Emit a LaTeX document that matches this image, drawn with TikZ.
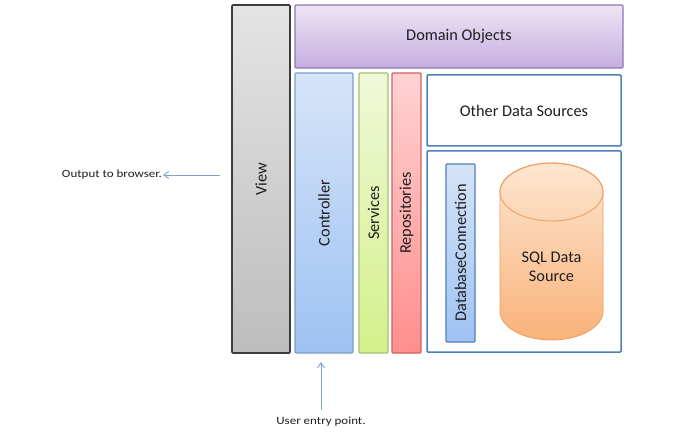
\documentclass[tikz,border=0pt]{standalone}
\usepackage{fontspec}
\setmainfont{Carlito}
\usetikzlibrary{arrows.meta}
\definecolor{viewB}{HTML}{3C3C3C}
\definecolor{viewT}{HTML}{E4E4E4}
\definecolor{viewD}{HTML}{BDBDBD}
\definecolor{domB}{HTML}{8C7AB0}
\definecolor{domT}{HTML}{EDE5F5}
\definecolor{domD}{HTML}{C6AEE0}
\definecolor{ctlB}{HTML}{7B9CCB}
\definecolor{ctlT}{HTML}{D6E4F7}
\definecolor{ctlD}{HTML}{9EC2F3}
\definecolor{srvB}{HTML}{A8C070}
\definecolor{srvT}{HTML}{EFF8D8}
\definecolor{srvD}{HTML}{D4F08A}
\definecolor{repB}{HTML}{D06262}
\definecolor{repT}{HTML}{FFD2D2}
\definecolor{repD}{HTML}{FF8E8E}
\definecolor{dsB}{HTML}{4F7FBA}
\definecolor{cylB}{HTML}{F0A060}
\definecolor{cylT}{HTML}{FDE6D0}
\definecolor{cylD}{HTML}{F9B27A}
\definecolor{arr}{HTML}{7F9FCF}
\definecolor{txt}{HTML}{1E1E1E}
\tikzset{
  bigfont/.style={font=\fontsize{16.3}{19.5}\selectfont, text=txt},
  layer/.style={draw, line width=1.2pt, inner sep=0pt, rounded corners=1pt, bigfont},
  vlabel/.style={rotate=90, bigfont},
  note/.style={font=\fontsize{11}{13}\selectfont, text=txt, inner sep=1pt},
  pointer/.style={draw=arr, line width=0.9pt, -{Straight Barb[length=5pt,width=7pt]}},
}
\begin{document}
\begin{tikzpicture}[x=1pt,y=1pt]
\useasboundingbox (0,0) rectangle (681,440);
% View
\node[layer, draw=viewB, line width=1.6pt, top color=viewT, bottom color=viewD, minimum width=58pt, minimum height=348pt] (view) at (261,261) {};
\node[vlabel] (viewt) at (view.center) {View};
% Domain objects
\node[layer, draw=domB, top color=domT, bottom color=domD, minimum width=328pt, minimum height=63pt] (dom) at (459,403.5) {Domain Objects};
% Controller
\node[layer, draw=ctlB, top color=ctlT, bottom color=ctlD, minimum width=58pt, minimum height=280pt] (ctl) at (324,227) {};
\node[vlabel] (ctlt) at (ctl.center) {Controller};
% Services
\node[layer, draw=srvB, top color=srvT, bottom color=srvD, minimum width=29pt, minimum height=280pt] (srv) at (373.5,227) {};
\node[vlabel] (srvt) at (srv.center) {Services};
% Repositories
\node[layer, draw=repB, top color=repT, bottom color=repD, minimum width=29pt, minimum height=280pt] (rep) at (406.5,227) {};
\node[vlabel] (rept) at (rep.center) {Repositories};
% Other data sources
\node[layer, draw=dsB, line width=1.5pt, fill=white, minimum width=194pt, minimum height=71pt] (other) at (524,329.5) {Other Data Sources};
% DB box
\node[layer, draw=dsB, line width=1.5pt, fill=white, minimum width=194pt, minimum height=201pt] (dbbox) at (524,188.5) {};
% Database connection
\node[layer, draw=dsB, top color=ctlT, bottom color=ctlD, minimum width=29pt, minimum height=178pt] (dbc) at (460.5,187) {};
\node[vlabel] (dbct) at (dbc.center) {DatabaseConnection};
% Cylinder
\path[draw=cylB, line width=0.9pt, top color=cylT, bottom color=cylD]
  (500,248) -- (500,129) arc[start angle=180, end angle=360, x radius=51.5, y radius=29]
  -- (603,248) arc[start angle=0, end angle=180, x radius=51.5, y radius=29] -- cycle;
\path[draw=cylB, line width=0.9pt] (551.5,248) ellipse[x radius=51.5, y radius=29];
\node[bigfont, align=center] (sql) at (551.5,173) {SQL Data\\Source};
% Notes and pointers
\node[note, anchor=east] (out) at (163,265) {\scalebox{1.18}[1]{Output to browser.}};
\coordinate (outstart) at (220,265);
\draw[pointer] (outstart) -- (out.east);
\node[note] (user) at (321,18) {\scalebox{1.18}[1]{User entry point.}};
\coordinate (userstart) at (321,30);
\coordinate (userend) at (321,78);
\draw[pointer] (userstart) -- (userend);
\end{tikzpicture}
\end{document}
